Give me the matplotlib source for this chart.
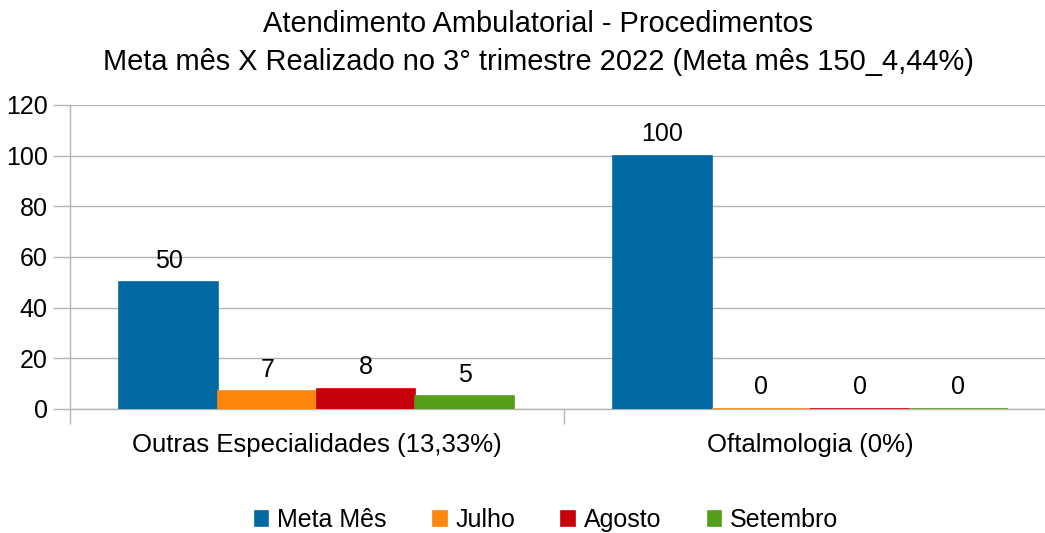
import numpy as np
import matplotlib
matplotlib.use("Agg")
import matplotlib.pyplot as plt

plt.rcParams['font.family'] = ['Liberation Sans', 'DejaVu Sans']

categories = ["Outras Especialidades (13,33%)", "Oftalmologia (0%)"]
series_names = ["Meta Mês", "Julho", "Agosto", "Setembro"]
meta_mes = [50, 100]
julho = [7, 0]
agosto = [8, 0]
setembro = [5, 0]
colors = ["#0369a3", "#ff860d", "#c5000b", "#579d1c"]

fig = plt.figure(figsize=(10.45, 5.33), dpi=100)
ax = fig.add_axes([70/1045, 1-409/533, 987/1045, 304/533])

x = np.arange(len(categories))
width = 0.2
for i, (name, vals) in enumerate(zip(series_names, [meta_mes, julho, agosto, setembro])):
    bars = ax.bar(x + (i - 1.5) * width, vals, width, color=colors[i],
                  edgecolor=colors[i], linewidth=1.2, label=name, zorder=3)
    ax.bar_label(bars, padding=7, fontsize=18)

ax.set_ylim(0, 120)
ax.set_yticks(range(0, 121, 20))
ax.set_xlim(-0.5, 1.5)
ax.set_xticks(x)
ax.set_xticklabels(categories, fontsize=18.5)
ax.set_xticks([-0.5, 0.5, 1.5], minor=True)
ax.tick_params(axis='x', which='major', length=0, pad=17)
ax.tick_params(axis='x', which='minor', length=11, color='#b3b3b3', width=1)
ax.tick_params(axis='y', length=12, color='#b3b3b3', width=1, labelsize=18, pad=4)
ax.yaxis.grid(True, color='#b3b3b3', linewidth=1, zorder=0)
ax.set_axisbelow(True)
for s in ['top', 'right']:
    ax.spines[s].set_visible(False)
for s in ['left', 'bottom']:
    ax.spines[s].set_color('#b3b3b3')
    ax.spines[s].set_linewidth(1)

fig.text(0.515, 0.919, "Atendimento Ambulatorial - Procedimentos\n"
         "Meta mês X Realizado no 3° trimestre 2022 (Meta mês 150_4,44%)",
         ha='center', va='center', fontsize=20.9, linespacing=1.45)

fig.legend(loc='center', bbox_to_anchor=(0.523, 0.024), ncol=4, frameon=False,
           fontsize=18, handlelength=0.55, handleheight=0.55, handletextpad=0.35,
           columnspacing=1.85)

fig.savefig("out.png", dpi=100)
